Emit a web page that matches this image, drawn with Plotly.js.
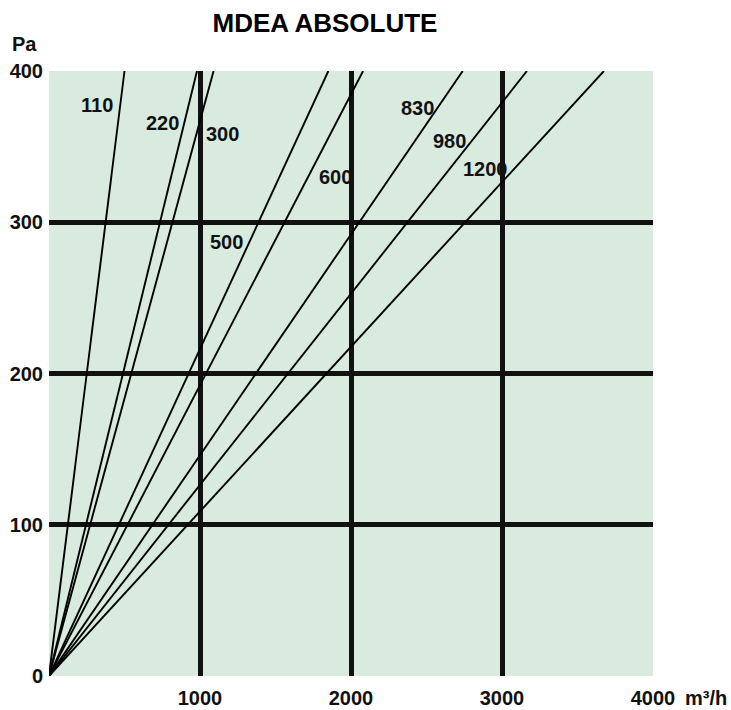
<!DOCTYPE html>
<html>
<head>
<meta charset="utf-8">
<script src="https://cdn.plot.ly/plotly-3.0.1.min.js"></script>
<style>html,body{margin:0;padding:0;background:#fff;}#chart{width:731px;height:710px;}</style>
</head>
<body>
<div id="chart"></div>
<script>
// Fan curves: flow (m³/h) reached at 400 Pa for each labelled line
const lineLabels = ['110', '220', '300', '500', '600', '830', '980', '1200'];
const flowAt400 = [500, 980, 1090, 1850, 2080, 2740, 3165, 3675];
const pressureEnd = 400;

const xTickVals = [1000, 2000, 3000, 4000];
const xTickText = ['1000', '2000', '3000', '4000'];
const yTickVals = [0, 100, 200, 300, 400];
const yTickText = ['0', '100', '200', '300', '400'];

// label anchor positions (layout, in data units)
const labelPosX = [316, 754, 1149, 1176, 1899, 2438, 2651, 2894];
const labelPosY = [377.5, 365.8, 358.3, 287.1, 329.7, 375.7, 353.9, 335.2];

const FONT = 'Liberation Sans, Arial, Helvetica, sans-serif';

const traces = lineLabels.map((lab, i) => ({
  type: 'scatter',
  mode: 'lines',
  name: lab,
  x: [0, flowAt400[i]],
  y: [0, pressureEnd],
  line: {color: '#000', width: 1.9},
  cliponaxis: false,
  hoverinfo: 'skip',
  showlegend: false
}));

const annotations = lineLabels.map((lab, i) => ({
  x: labelPosX[i], y: labelPosY[i], xref: 'x', yref: 'y',
  text: lab, showarrow: false,
  font: {family: FONT, size: 20, color: '#111', weight: 700},
  xanchor: 'center', yanchor: 'middle'
}));
annotations.push({
  xref: 'paper', yref: 'paper', x: -0.0646, y: 1.0446,
  text: 'Pa', showarrow: false, xanchor: 'left', yanchor: 'middle',
  font: {family: FONT, size: 20, color: '#111', weight: 700}
});
annotations.push({
  xref: 'paper', yref: 'paper', x: 1.0497, y: -0.036,
  text: 'm³/h', showarrow: false, xanchor: 'left', yanchor: 'middle',
  font: {family: FONT, size: 20, color: '#111', weight: 700}
});

const layout = {
  width: 731, height: 710,
  margin: {l: 49, r: 78, t: 71, b: 34, pad: 0},
  paper_bgcolor: '#ffffff',
  plot_bgcolor: '#d9ebdf',
  title: {
    text: 'MDEA ABSOLUTE',
    xref: 'container', yref: 'container',
    x: 325 / 731, y: 1 - 23 / 710,
    xanchor: 'center', yanchor: 'middle',
    font: {family: FONT, size: 26, color: '#000', weight: 700}
  },
  xaxis: {
    range: [0, 4000],
    tickmode: 'array', tickvals: xTickVals, ticktext: xTickText,
    showgrid: false, zeroline: false, showline: false, ticks: '',
    ticklabelstandoff: 8,
    tickfont: {family: FONT, size: 20, color: '#111', weight: 700},
    minor: {tickmode: 'array', tickvals: [1000, 2000, 3000], showgrid: true,
            gridcolor: '#111', gridwidth: 5, ticks: ''},
    fixedrange: true
  },
  yaxis: {
    range: [0, 400],
    tickmode: 'array', tickvals: yTickVals, ticktext: yTickText,
    showgrid: false, zeroline: false, showline: false, ticks: '',
    ticklabelstandoff: 5,
    tickfont: {family: FONT, size: 20, color: '#111', weight: 700},
    minor: {tickmode: 'array', tickvals: [100, 200, 300], showgrid: true,
            gridcolor: '#111', gridwidth: 5, ticks: ''},
    fixedrange: true
  },
  annotations: annotations,
  showlegend: false
};

Plotly.newPlot('chart', traces, layout, {displayModeBar: false, staticPlot: true});
</script>
</body>
</html>
